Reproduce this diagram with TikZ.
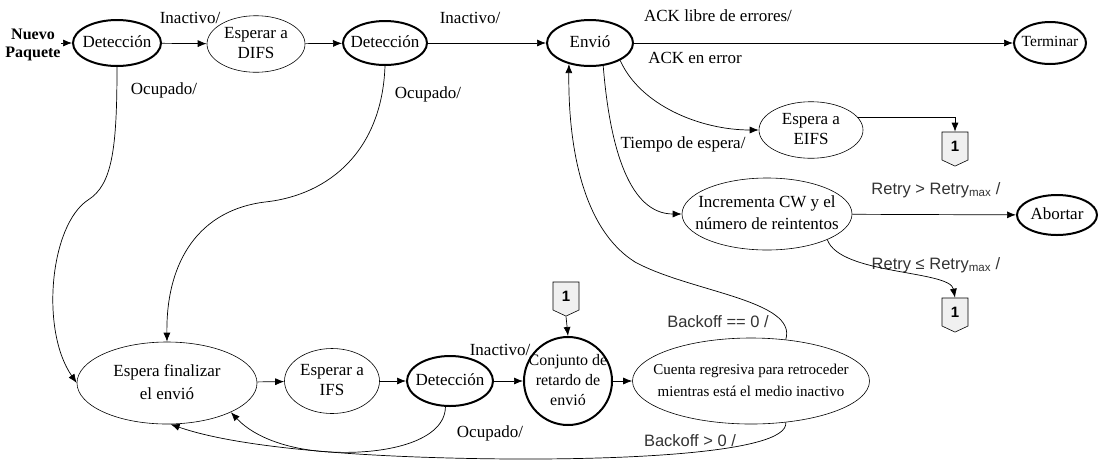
\documentclass[tikz,border=0pt]{standalone}
\usepackage{fontspec}
\setmainfont{Liberation Serif}
\newfontfamily\sansf{Liberation Sans}
\usetikzlibrary{shapes.geometric,shapes.symbols,arrows.meta,calc}
\newcommand{\zt}[1]{\makebox[0pt]{\begin{tabular}{@{}c@{}}#1\end{tabular}}}
\begin{document}
\begin{tikzpicture}[x=1pt,y=1pt,
  every node/.style={font=\fontsize{17}{20}\selectfont},
  st/.style={ellipse,draw,line width=0.6pt,inner sep=0pt,align=center},
  thk/.style={st,line width=2pt},
  arr/.style={-{Latex[length=9pt,width=7pt]},line width=0.7pt},
  lbl/.style={inner sep=0pt},
  slbl/.style={inner sep=0pt,font=\sansf\fontsize{16.5}{19}\selectfont,text=black!80},
  tagn/.style={shape=signal,signal to=south,signal from=nowhere,draw,line width=0.6pt,fill=gray!12,minimum width=26pt,minimum height=30pt,inner sep=0pt,font=\sansf\bfseries\fontsize{15}{17}\selectfont,signal pointer angle=130},
]
\useasboundingbox (0,0) rectangle (1100,-459);
\node[lbl,font=\bfseries\fontsize{16}{18}\selectfont,align=center] (np) at (33,-45) {Nuevo\\Paquete};
\node[thk,minimum width=88,minimum height=46] (det1) at (117,-43) {\zt{Detección}};
\node[st,minimum width=98,minimum height=48] (difs) at (256,-44) {\zt{Esperar a\\DIFS}};
\node[thk,minimum width=84,minimum height=44] (det2) at (385,-43) {\zt{Detección}};
\node[thk,minimum width=86,minimum height=46] (envio) at (590,-43) {\zt{Envió}};
\node[thk,minimum width=72,minimum height=42,font=\fontsize{15.5}{18}\selectfont] (term) at (1050,-43) {\zt{Terminar}};
\node[st,minimum width=104,minimum height=52] (eifs) at (811,-130) {\zt{Espera a\\EIFS}};
\node[tagn] (ta) at (955,-146) {1};
\node[st,minimum width=170,minimum height=72,font=\fontsize{17}{22}\selectfont] (incr) at (767,-214) {\zt{Incrementa CW y el\\número de reintentos}};
\node[thk,minimum width=80,minimum height=40] (abort) at (1057,-215) {\zt{Abortar}};
\node[tagn] (tb) at (955,-312) {1};
\node[tagn] (tc) at (566,-296) {1};
\node[thk,circle,minimum size=88,font=\fontsize{16}{20}\selectfont] (conj) at (568,-381) {\zt{Conjunto de\\retardo de\\envió}};
\node[st,minimum width=237,minimum height=86,font=\fontsize{15}{22}\selectfont] (cuenta) at (751,-381) {\zt{Cuenta regresiva para retroceder\\mientras está el medio inactivo}};
\node[st,minimum width=180,minimum height=82,font=\fontsize{17}{23}\selectfont] (efin) at (167,-383) {\zt{Espera finalizar\\el envió}};
\node[st,minimum width=95,minimum height=65] (ifs) at (332,-381) {\zt{Esperar a\\IFS}};
\node[thk,minimum width=86,minimum height=50] (det3) at (450,-381) {\zt{Detección}};
% labels
\node[lbl] (l1) at (190,-18) {Inactivo/};
\node[lbl] (l2) at (470,-18) {Inactivo/};
\node[lbl] (l3) at (718,-16) {ACK libre de errores/};
\node[lbl] (l4) at (695,-58) {ACK en error};
\node[lbl] (l5) at (164,-90) {Ocupado/};
\node[lbl] (l6) at (428,-94) {Ocupado/};
\node[lbl] (l7) at (683,-144) {Tiempo de espera/};
\node[slbl] (l8) at (936,-190) {Retry > Retry\textsubscript{max} /};
\node[slbl] (l9) at (936,-265) {Retry ≤ Retry\textsubscript{max} /};
\node[slbl] (l10) at (718,-322) {Backoff == 0 /};
\node[lbl] (l11) at (500,-350) {Inactivo/};
\node[lbl] (l12) at (490,-433) {Ocupado/};
\node[slbl] (l13) at (690,-441) {Backoff > 0 /};
% edges
\draw[arr] (np.east |- det1.west) -- (det1.west);
\draw[arr] (det1) -- (difs);
\draw[arr] (difs) -- (det2);
\draw[arr] (det2) -- (envio);
\draw[arr] (envio) -- (term);
\draw[arr] (envio.330) .. controls (640,-105) and (700,-130) .. (eifs.west);
\draw[arr] (eifs.15) -| (ta.north);
\draw[arr] (envio.300) .. controls (610,-150) and (630,-214) .. (incr.west);
\draw[arr] (incr) -- (abort);
\draw[arr] (incr.south east) .. controls (840,-275) and (950,-270) .. (tb.north);
\draw[arr] (tc.south) -- (conj.north);
\draw[arr] (efin) -- (ifs);
\draw[arr] (ifs) -- (det3);
\draw[arr] (det3) -- (conj);
\draw[arr] (conj) -- (cuenta);
\draw[arr] (cuenta.50) .. controls (798,-300) and (690,-292) .. (635,-262) .. controls (584,-230) and (568,-150) .. (envio.225);
\draw[arr] (cuenta.-50) .. controls (790,-455) and (600,-462) .. (450,-458) .. controls (330,-455) and (230,-445) .. (efin.-85);
\draw[arr] (det3.-100) .. controls (445,-440) and (390,-455) .. (330,-452) .. controls (290,-450) and (255,-438) .. (efin.south east);
\draw[arr] (det1.south) .. controls (117,-150) and (112,-185) .. (88,-200) .. controls (50,-225) and (40,-330) .. (efin.west);
\draw[arr] (det2.south) .. controls (382,-150) and (330,-195) .. (265,-202) .. controls (200,-210) and (166,-260) .. (efin.north);
\end{tikzpicture}
\end{document}
